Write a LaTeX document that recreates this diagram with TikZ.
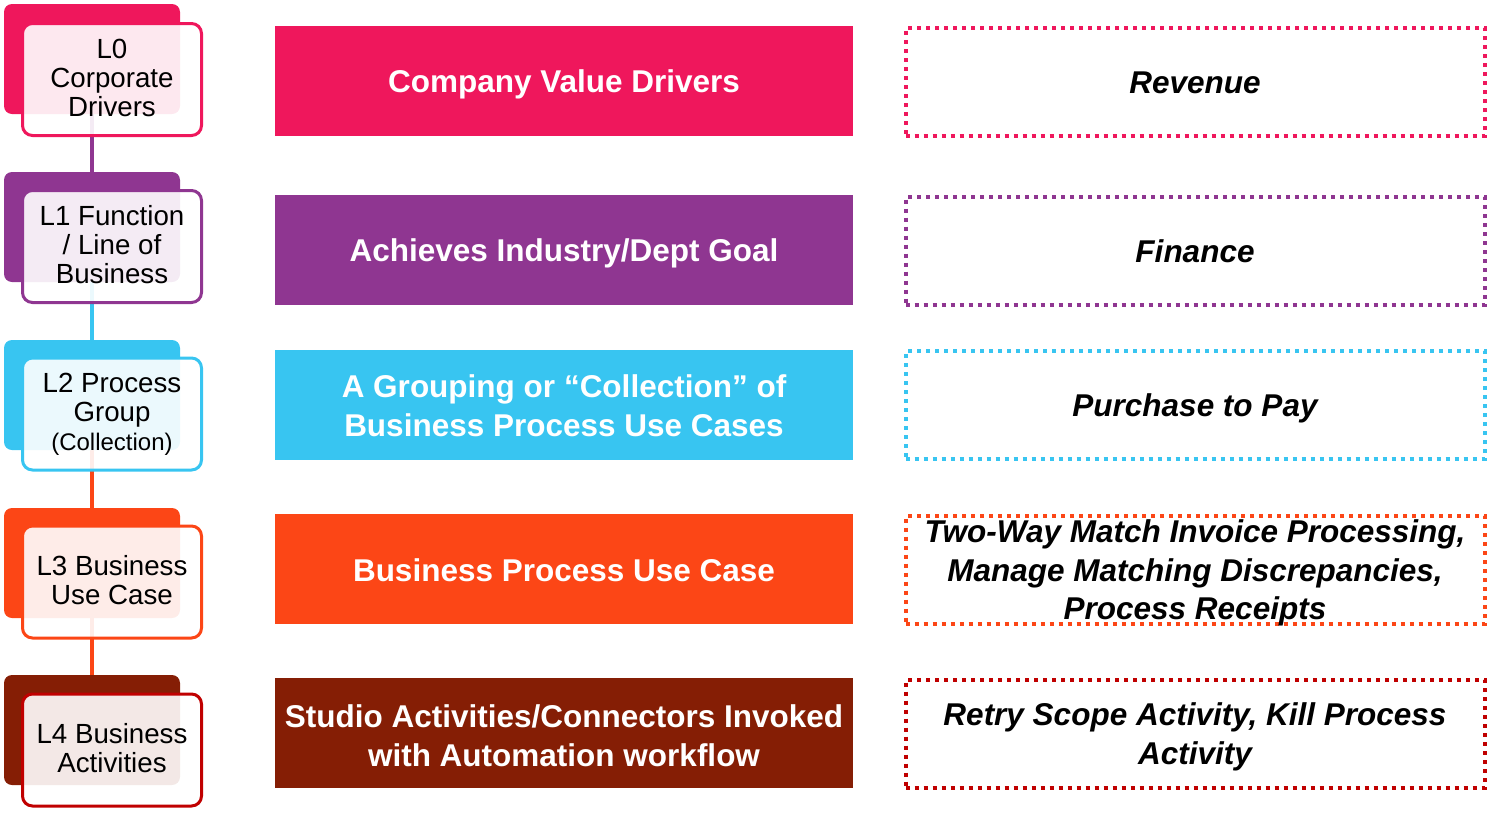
\documentclass[tikz,border=0pt]{standalone}
\usepackage{fontspec}
\setmainfont{Liberation Sans}
\usetikzlibrary{backgrounds}
\definecolor{pinkc}{RGB}{239,23,92}
\definecolor{purplec}{RGB}{143,54,145}
\definecolor{cyanc}{RGB}{56,197,241}
\definecolor{orangec}{RGB}{252,70,22}
\definecolor{brownc}{RGB}{133,30,5}
\definecolor{redc}{RGB}{192,0,0}
\begin{document}
\begin{tikzpicture}[x=1pt,y=-1pt,
  backbox/.style={rounded corners=8pt, minimum width=176pt, minimum height=110pt, inner sep=0pt, draw=none},
  frontbox/.style={rounded corners=10pt, minimum width=179pt, minimum height=112pt, fill=white, fill opacity=0.9, line width=3pt, inner sep=0pt},
  fronttext/.style={align=center, font=\fontsize{27.7}{29}\selectfont, inner sep=0pt, yshift=1.5pt},
  bar/.style={minimum width=578pt, minimum height=110pt, inner sep=0pt},
  bartext/.style={text=white, align=center, font=\bfseries\fontsize{31.5}{39}\selectfont, inner sep=0pt, yshift=-3pt},
  dotbox/.style={minimum width=579pt, minimum height=108pt, line width=4pt, dash pattern=on 4pt off 5pt, inner sep=0pt},
  dottext/.style={align=center, font=\bfseries\itshape\fontsize{31.5}{38.5}\selectfont, inner sep=0pt, yshift=-3.5pt},
  link/.style={line width=3.5pt}]
\useasboundingbox (0,0) rectangle (1499,838);

% level tabs: coloured back card and translucent front card
\node[backbox, fill=pinkc]   (b0) at (92,59)  {};
\node[backbox, fill=purplec] (b1) at (92,227) {};
\node[backbox, fill=cyanc]   (b2) at (92,395) {};
\node[backbox, fill=orangec] (b3) at (92,563) {};
\node[backbox, fill=brownc]  (b4) at (92,730) {};

\node[frontbox, draw=pinkc]   (f0) at (112,79.5)  {};
\node[frontbox, draw=purplec] (f1) at (112,246.5) {};
\node[frontbox, draw=cyanc]   (f2) at (112,414)   {};
\node[frontbox, draw=orangec] (f3) at (112,582)   {};
\node[frontbox, draw=redc]    (f4) at (112,750)   {};

\node[fronttext] (t0) at (f0.center) {L0\\Corporate\\Drivers};
\node[fronttext] (t1) at (f1.center) {L1 Function\\/ Line of\\Business};
\node[fronttext, yshift=-2pt] (t2) at (f2.center) {L2 Process\\Group\\{\fontsize{24}{27}\selectfont(Collection)}};
\node[fronttext] (t3) at (f3.center) {L3 Business\\Use Case};
\node[fronttext] (t4) at (f4.center) {L4 Business\\Activities};

% vertical links between levels
\begin{pgfonlayer}{background}
\draw[link, purplec] (b0.south) -- (b1.north);
\draw[link, cyanc]   (b1.south) -- (b2.north);
\draw[link, orangec] (b2.south) -- (b3.north);
\draw[link, orangec] (b3.south) -- (b4.north);
\end{pgfonlayer}

% descriptions
\node[bar, fill=pinkc]   (d0) at (564,81)    {};
\node[bar, fill=purplec] (d1) at (564,250)   {};
\node[bar, fill=cyanc]   (d2) at (564,404.5) {};
\node[bar, fill=orangec] (d3) at (564,569)   {};
\node[bar, fill=brownc]  (d4) at (564,733)   {};

\node[bartext] (dt0) at (d0.center) {Company Value Drivers};
\node[bartext] (dt1) at (d1.center) {Achieves Industry/Dept Goal};
\node[bartext, yshift=2pt] (dt2) at (d2.center) {A Grouping or “Collection” of\\Business Process Use Cases};
\node[bartext, yshift=2pt] (dt3) at (d3.center) {Business Process Use Case};
\node[bartext] (dt4) at (d4.center) {Studio Activities/Connectors Invoked\\with Automation workflow};

% examples
\node[dotbox, draw=pinkc]   (e0) at (1195,82)    {};
\node[dotbox, draw=purplec] (e1) at (1195,250.5) {};
\node[dotbox, draw=cyanc]   (e2) at (1195,405)   {};
\node[dotbox, draw=orangec] (e3) at (1195,569.5) {};
\node[dotbox, draw=redc]    (e4) at (1195,733.5) {};

\node[dottext, yshift=3pt] (et0) at (e0.center) {Revenue};
\node[dottext, yshift=3pt] (et1) at (e1.center) {Finance};
\node[dottext] (et2) at (e2.center) {Purchase to Pay};
\node[dottext] (et3) at (e3.center) {Two-Way Match Invoice Processing,\\Manage Matching Discrepancies,\\Process Receipts};
\node[dottext] (et4) at (e4.center) {Retry Scope Activity, Kill Process\\Activity};
\end{tikzpicture}
\end{document}
